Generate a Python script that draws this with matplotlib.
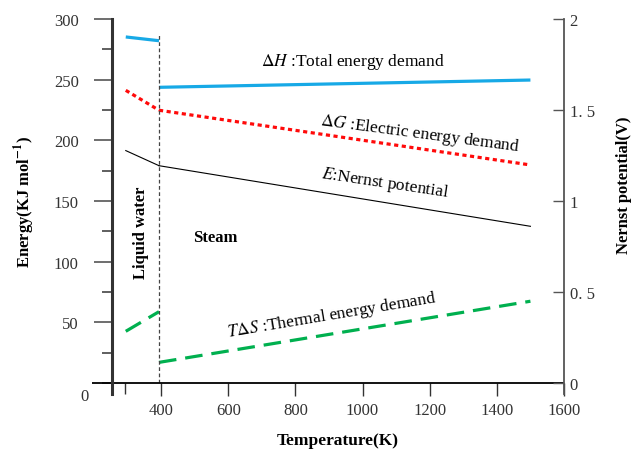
import matplotlib
matplotlib.use("Agg")
import matplotlib.pyplot as plt
from matplotlib.ticker import FixedLocator

plt.rcParams['font.family'] = ['Liberation Serif', 'DejaVu Serif']
plt.rcParams['mathtext.fontset'] = 'stix'

# Temperatures (K)
T_liquid = [295, 394]
T_steam = [394, 1500]
T_boundary = 394

# Energies (kJ/mol)
dH_liquid = [285.2, 282.1]
dH_steam = [243.7, 249.7]
dG_liquid = [241.2, 224.8]
dG_steam = [224.8, 179.7]
TdS_liquid = [42.6, 58.8]
TdS_steam = [17.0, 67.4]
# Nernst potential (V)
E_liquid = [1.277, 1.194]
E_steam = [1.194, 0.861]

x_ticks = [400, 600, 800, 1000, 1200, 1400, 1600]
y_major = [50, 100, 150, 200, 250, 300]
y_minor = [0, 25, 75, 125, 175, 225, 275]
y2_ticks = [0, 0.5, 1, 1.5, 2]
y2_labels = ['0', '0. 5', '1', '1. 5', '2']

fig = plt.figure(figsize=(6.39, 4.52), dpi=100)
ax = fig.add_axes([112/639, 1-384/452, (564-112)/639, (384-20)/452])
ax2 = ax.twinx()

blue = '#17A9E6'
red = '#FF0A0A'
green = '#00B04F'

ax.plot(T_liquid, dH_liquid, color=blue, lw=2.3, solid_capstyle='butt')
ax.plot(T_steam, dH_steam, color=blue, lw=2.3, solid_capstyle='butt')
ax.plot(T_liquid, dG_liquid, color=red, lw=2.3, ls=(0, (1.3, 1.1)))
ax.plot(T_steam, dG_steam, color=red, lw=2.3, ls=(0, (1.3, 1.1)))
ax.plot(T_liquid, TdS_liquid, color=green, lw=2.3, ls=(0, (5.5, 2.8)))
ax.plot(T_steam, TdS_steam, color=green, lw=2.3, ls=(0, (5.5, 2.8)))
ax2.plot(T_liquid, E_liquid, color='black', lw=0.8)
ax2.plot(T_steam, E_steam, color='black', lw=0.8)

ax.plot([T_boundary, T_boundary], [0, 286.8], color='#444444', lw=0.9, ls=(0, (3, 2)))

ax.set_xlim(254, 1600)
ax.set_ylim(0, 300)
ax2.set_ylim(0, 2)

# spines
for s in ['top']:
    ax.spines[s].set_visible(False)
    ax2.spines[s].set_visible(False)
ax.spines['left'].set_color('#333333')
ax.spines['left'].set_linewidth(2.2)
ax.spines['left'].set_bounds(-9, 300)
ax2.spines['left'].set_visible(False)
ax2.spines['bottom'].set_visible(False)
ax2.spines['right'].set_color('#555555')
ax2.spines['right'].set_linewidth(1.3)
ax2.spines['right'].set_bounds(-0.06, 2)
ax.spines['right'].set_visible(False)
ax.spines['bottom'].set_visible(False)
# bottom axis line extending to the left
ax.plot([193, 1600], [0, 0], color='black', lw=1.3, clip_on=False, solid_capstyle='butt')

# x ticks
ax.set_xticks(x_ticks)
ax.set_xticklabels([str(v) for v in x_ticks])
ax.xaxis.set_minor_locator(FixedLocator([293]))
ax.tick_params(axis='x', which='major', direction='out', length=9, width=1.0, color='#333333',
               labelsize=12, labelcolor='#333333', pad=5)
ax.tick_params(axis='x', which='minor', direction='out', length=8, width=1.0, color='#333333')

# left y ticks
ax.set_yticks(y_major)
ax.set_yticklabels([str(v) for v in y_major])
ax.yaxis.set_minor_locator(FixedLocator(y_minor))
ax.tick_params(axis='y', which='major', direction='out', length=13, width=1.2, color='#555555',
               labelsize=12, labelcolor='#333333', pad=11)
ax.tick_params(axis='y', which='minor', direction='out', length=7.5, width=1.2, color='#444444')
ax.text(-0.052, -0.035, '0', transform=ax.transAxes, ha='right', va='center', fontsize=12, color='#333333')

# right y ticks
ax2.set_yticks(y2_ticks)
ax2.set_yticklabels(y2_labels)
ax2.tick_params(axis='y', direction='in', length=8, width=1.0, color='#555555',
                labelsize=12, labelcolor='#333333', pad=4)

# labels
ax.set_xlabel('Temperature(K)', fontsize=12.5, fontweight='bold', labelpad=10)
ax.set_ylabel('Energy(KJ mol$^{\\mathbf{-1}}$)', fontsize=12, fontweight='bold')
ax.yaxis.set_label_coords(-0.165, 0.5)
ax2.set_ylabel('Nernst potential(V)', fontsize=12, fontweight='bold')
ax2.yaxis.set_label_coords(1.115, 0.545)

# annotations
ax.text(972, 265, r'$\Delta H$ :Total energy demand', fontsize=12.5, ha='center', va='center')
ax.text(1172, 206, r'$\Delta G$ :Electric energy demand', fontsize=12.5, ha='center', va='center', rotation=-7.5)
ax.text(1068, 165, r'$E$:Nernst potential', fontsize=12.5, ha='center', va='center', rotation=-8.5)
ax.text(907, 56, r'$T\Delta S$ :Thermal energy demand', fontsize=12.5, ha='center', va='center', rotation=9.5)
ax.text(560, 120, 'Steam', fontsize=12, fontweight='bold', ha='center', va='center')
ax.text(340, 125, 'Liquid water', fontsize=12, fontweight='bold', ha='center', va='center', rotation=90)

fig.savefig('out.png', dpi=100)
